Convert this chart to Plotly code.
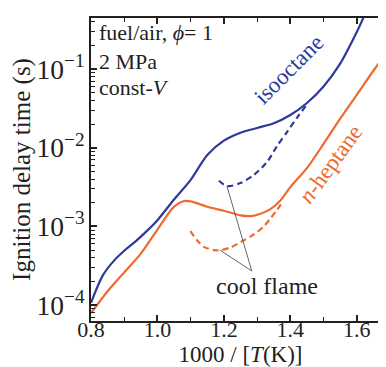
import numpy as np
import plotly.graph_objects as go

# ---- data ----
iso_x = [0.80, 0.836, 0.87, 0.90, 0.935, 0.97, 1.00, 1.05, 1.10, 1.15, 1.20, 1.25, 1.30, 1.35, 1.40, 1.45, 1.50, 1.55, 1.60, 1.625]
iso_y = [1.07e-4, 2.4e-4, 3.7e-4, 4.9e-4, 6.5e-4, 8.9e-4, 1.2e-3, 2.2e-3, 3.9e-3, 8.1e-3, 1.23e-2, 1.55e-2, 1.78e-2, 2.04e-2, 2.6e-2, 3.7e-2, 6.0e-2, 1.17e-1, 2.95e-1, 5.0e-1]

iso_cf_x = [1.185, 1.20, 1.215, 1.25, 1.29, 1.33, 1.36, 1.39, 1.42, 1.45]
iso_cf_y = [3.8e-3, 3.4e-3, 3.24e-3, 3.55e-3, 4.5e-3, 6.6e-3, 1.05e-2, 1.58e-2, 2.4e-2, 3.55e-2]

hep_x = [0.80, 0.85, 0.90, 0.95, 1.00, 1.05, 1.08, 1.10, 1.15, 1.20, 1.25, 1.28, 1.31, 1.34, 1.37, 1.40, 1.45, 1.50, 1.55, 1.60, 1.65, 1.70]
hep_y = [7.9e-5, 1.5e-4, 2.6e-4, 4.5e-4, 9.1e-4, 1.78e-3, 2.1e-3, 2.08e-3, 1.78e-3, 1.58e-3, 1.38e-3, 1.35e-3, 1.45e-3, 1.66e-3, 2.14e-3, 3.16e-3, 5.5e-3, 1.12e-2, 2.34e-2, 4.7e-2, 9.5e-2, 1.86e-1]

hep_cf_x = [1.099, 1.12, 1.14, 1.17, 1.19, 1.22, 1.25, 1.29, 1.32, 1.34, 1.36, 1.375]
hep_cf_y = [8.7e-4, 6.6e-4, 5.5e-4, 5.0e-4, 5.0e-4, 5.4e-4, 6.3e-4, 7.9e-4, 1.0e-3, 1.26e-3, 1.62e-3, 2.0e-3]

# cool flame pointer lines: label point -> curve minima
cf_label = (1.284, 2.71e-4)
cf_iso_end = (1.209, 3.26e-3)
cf_hep_end = (1.188, 5.0e-4)

x_ticks = [0.8, 1.0, 1.2, 1.4, 1.6]
x_tick_labels = ["0.8", "1.0", "1.2", "1.4", "1.6"]

BLUE = "#2D3A97"
ORANGE = "#EE6A2E"
FONT = "Liberation Serif, Times New Roman, serif"
INK = "#231f20"

fig = go.Figure()
def curve(x, y, color, dash=None):
    fig.add_trace(go.Scatter(x=x, y=y, mode="lines",
                             line=dict(color=color, width=2.2, dash=dash, shape="spline", smoothing=0.8),
                             showlegend=False))
curve(iso_x, iso_y, BLUE)
curve(iso_cf_x, iso_cf_y, BLUE, "6px,4px")
curve(hep_x, hep_y, ORANGE)
curve(hep_cf_x, hep_cf_y, ORANGE, "6px,4px")
for end in (cf_iso_end, cf_hep_end):
    fig.add_trace(go.Scatter(x=[cf_label[0], end[0]], y=[cf_label[1], end[1]], mode="lines",
                             line=dict(color="#555555", width=0.9), showlegend=False))

fig.update_layout(
    width=386, height=367,
    margin=dict(l=83, r=2, t=10, b=54),
    paper_bgcolor="white", plot_bgcolor="white",
    font=dict(family=FONT, size=22, color=INK),
)
fig.update_xaxes(
    range=[0.8, 1.7], tickvals=x_ticks, ticktext=x_tick_labels,
    ticks="inside", ticklen=6, tickwidth=1.5, tickcolor=INK,
    minor=dict(ticks="inside", ticklen=4, tickwidth=1.2, tickcolor=INK, dtick=0.1, showgrid=False),
    showline=True, linecolor=INK, linewidth=2, mirror="ticks",
    showgrid=False, zeroline=False,
    tickfont=dict(family=FONT, size=22), ticklabelstandoff=-12,
    title=dict(text="1000 / [<i>T</i>(K)]", font=dict(family=FONT, size=23), standoff=0),
)
fig.update_yaxes(
    type="log", range=[-4.202, -0.352], dtick=1, exponentformat="power",
    ticks="inside", ticklen=6, tickwidth=1.5, tickcolor=INK,
    minor=dict(ticks="inside", ticklen=4, tickwidth=1.2, tickcolor=INK, dtick="D1", showgrid=False),
    showline=True, linecolor=INK, linewidth=2, mirror="ticks",
    showgrid=False, zeroline=False,
    tickfont=dict(family=FONT, size=22),
    title=dict(text="Ignition delay time (s)", font=dict(family=FONT, size=25), standoff=2),
)

def ann(text, x, y, xref="x", yref="y", color=INK, angle=0, xanchor="center", size=22):
    fig.add_annotation(text=text, x=x, y=y, xref=xref, yref=yref, showarrow=False,
                       textangle=angle, xanchor=xanchor, yanchor="middle",
                       font=dict(family=FONT, size=size, color=color))

ann("fuel/air, <i>ϕ</i>= 1", 0.02, 0.952, "paper", "paper", xanchor="left")
ann("2 MPa", 0.02, 0.856, "paper", "paper", xanchor="left")
ann("const-<i>V</i>", 0.02, 0.772, "paper", "paper", xanchor="left")
ann("isooctane", 1.395, np.log10(0.1), color=BLUE, angle=-45, size=23)
ann("<i>n</i>-heptane", 1.52, np.log10(6.2e-3), color=ORANGE, angle=-54, size=23)
ann("cool flame", 1.33, np.log10(1.75e-4), size=24)

fig.write_html("out.html")
